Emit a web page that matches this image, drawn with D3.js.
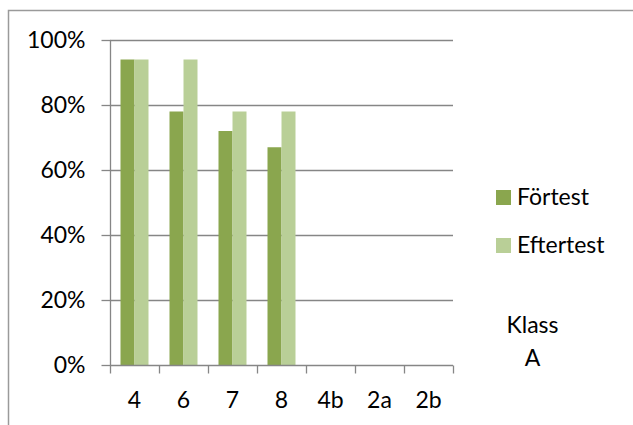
<!DOCTYPE html>
<html>
<head>
<meta charset="utf-8">
<script src="https://cdn.jsdelivr.net/npm/d3@7"></script>
<style>
  html, body { margin: 0; padding: 0; background: #fff; }
  svg { display: block; }
  text { font-family: Lato, "Open Sans", sans-serif; fill: #000; }
</style>
</head>
<body>
<svg id="chart" width="633" height="425"></svg>
<script>
// ---- data ----
const categories = ["4", "6", "7", "8", "4b", "2a", "2b"];
const seriesNames = ["Förtest", "Eftertest"];
const forTest    = [0.94, 0.78, 0.72, 0.67, null, null, null];
const efterTest  = [0.94, 0.94, 0.78, 0.78, null, null, null];
const yTicks = [0, 0.2, 0.4, 0.6, 0.8, 1.0];
const seriesColors = ["#8aa64e", "#b9cf97"];
const noteLines = ["Klass", "A"];

const svg = d3.select("#chart");
const gridColor = "#868686";
const fs = 23;

// chart border (cropped at right and bottom)
svg.append("rect")
  .attr("x", 8.5).attr("y", 10.5)
  .attr("width", 800).attr("height", 600)
  .attr("fill", "none").attr("stroke", "#9a9a9a").attr("stroke-width", 1.5);

const plot = { left: 110, right: 453, top: 40, bottom: 365 };

const x = d3.scaleBand().domain(categories).range([plot.left, plot.right]).paddingInner(0).paddingOuter(0);
const x1 = d3.scaleBand().domain(seriesNames).range([0, x.bandwidth()]).paddingInner(0).paddingOuter(0.75);
const y = d3.scaleLinear().domain([0, 1]).range([plot.bottom, plot.top]);

// gridlines
svg.append("g").selectAll("line").data(yTicks.filter(d => d > 0)).join("line")
  .attr("x1", plot.left).attr("x2", plot.right)
  .attr("y1", d => Math.round(y(d)) + 0.5).attr("y2", d => Math.round(y(d)) + 0.5)
  .attr("stroke", gridColor).attr("stroke-width", 1.3);

// bars
const rows = categories.map((c, i) => ({ cat: c, vals: [forTest[i], efterTest[i]] }));
const groups = svg.append("g").selectAll("g").data(rows).join("g")
  .attr("transform", d => `translate(${x(d.cat)},0)`);
groups.selectAll("rect").data(d => d.vals.map((v, j) => ({ v, s: seriesNames[j], j })).filter(e => e.v != null))
  .join("rect")
  .attr("x", e => x1(e.s))
  .attr("width", x1.bandwidth())
  .attr("y", e => y(e.v))
  .attr("height", e => y(0) - y(e.v))
  .attr("fill", e => seriesColors[e.j]);

// y axis
const yAxis = d3.axisLeft(y).tickValues(yTicks).tickFormat(d3.format(".0%")).tickSize(9).tickPadding(16);
const gy = svg.append("g").attr("transform", `translate(${plot.left + 0.5},0)`).call(yAxis);
gy.select(".domain").attr("stroke", gridColor).attr("stroke-width", 1.3).attr("d", `M0,${plot.top}V${plot.bottom}`);
gy.selectAll(".tick line").attr("stroke", gridColor).attr("stroke-width", 1.3);
gy.selectAll(".tick text").attr("font-size", fs).attr("font-family", "Lato, sans-serif");

// x axis
const xAxis = d3.axisBottom(x).tickSize(0).tickPadding(26);
const gx = svg.append("g").attr("transform", `translate(0,${plot.bottom + 0.5})`).call(xAxis);
gx.select(".domain").attr("stroke", gridColor).attr("stroke-width", 1.3).attr("d", `M${plot.left},0H${plot.right}`);
gx.selectAll(".tick line").remove();
gx.selectAll(".tick text").attr("font-size", fs).attr("font-family", "Lato, sans-serif");
// category boundary ticks
const boundaries = categories.map(c => x(c)).concat([plot.right]);
gx.append("g").selectAll("line").data(boundaries).join("line")
  .attr("x1", d => Math.round(d) + 0.5).attr("x2", d => Math.round(d) + 0.5)
  .attr("y1", 0).attr("y2", 8)
  .attr("stroke", gridColor).attr("stroke-width", 1.3);

// legend
const legend = svg.append("g");
seriesNames.forEach((name, i) => {
  const ly = 190 + i * 48;
  legend.append("rect").attr("x", 496).attr("y", ly).attr("width", 15).attr("height", 15).attr("fill", seriesColors[i]);
  legend.append("text").attr("x", 517).attr("y", ly + 15).attr("font-size", fs).text(name);
});

// note
noteLines.forEach((t, i) => {
  svg.append("text").attr("x", 532.5).attr("y", 333 + i * 33).attr("text-anchor", "middle").attr("font-size", fs).text(t);
});
</script>
</body>
</html>
